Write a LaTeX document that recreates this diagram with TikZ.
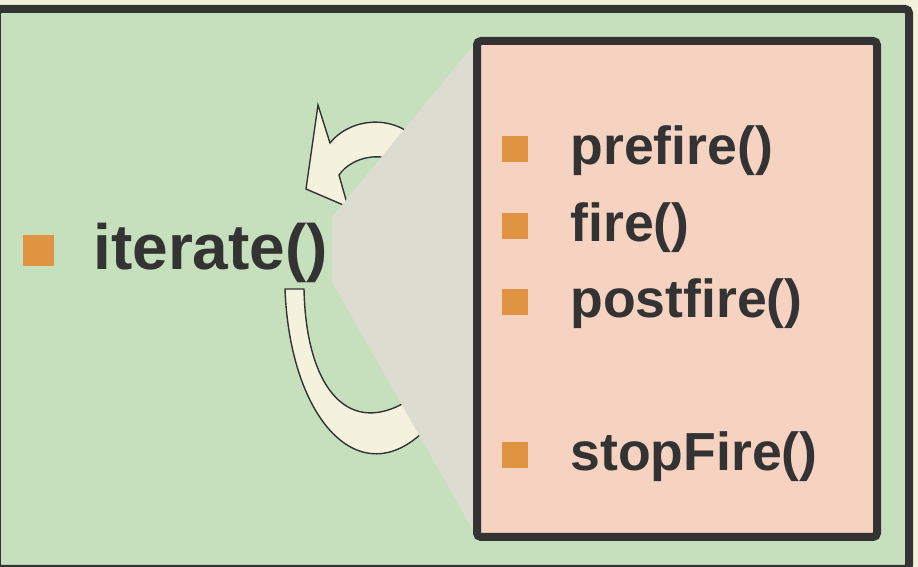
\documentclass[tikz,border=0pt]{standalone}
\usepackage{fontspec}
\setmainfont{Liberation Sans}

\definecolor{paper}{HTML}{F4F1DA}
\definecolor{slidegreen}{HTML}{C6E0BE}
\definecolor{panelpink}{HTML}{F6D3C1}
\definecolor{calloutgrey}{HTML}{DCDCD0}
\definecolor{arrowcream}{HTML}{F4F2DC}
\definecolor{bulletorange}{HTML}{E09442}
\definecolor{ink}{HTML}{333333}

\begin{document}
\begin{tikzpicture}[x=0.5pt,y=-0.5pt,
  bullet/.style={fill=bulletorange,inner sep=0pt,minimum size=#1},
  bullet/.default=13pt,
  method/.style={anchor=base west,inner sep=0pt,text=ink,
    font=\bfseries\fontsize{26.8}{30}\selectfont},
  turn/.style={fill=arrowcream,draw=ink,line width=0.7pt,line join=miter}]

% page and slide frame
\fill[paper] (0,0) rectangle (918,567);
\useasboundingbox (0,0) rectangle (918,567);
\draw[fill=slidegreen,draw=ink,line width=4pt,rounded corners=2pt]
  (-3,569) rectangle (909,9);

% left side: the loop
\node[bullet=15.5pt] (b0) at (38.5,250.5) {};
\node[method,font=\bfseries\fontsize{32}{36}\selectfont] (iterate) at (93,270) {iterate()};

% curved arrow going back up
\draw[turn] (418,140) .. controls (390,112) and (348,120) .. (330,143)
  -- (318,105) -- (306,189) -- (348,207) -- (339,175)
  .. controls (352,156) and (385,150) .. (402,166) -- cycle;
% band coming down from iterate()
\draw[turn] (285,289) .. controls (290,420) and (360,495) .. (425,430)
  -- (412,398) .. controls (350,440) and (306,390) .. (304,289) -- cycle;

% callout wedge into the panel
\coordinate (nw) at (477,41);
\coordinate (sw) at (477,537);
\fill[calloutgrey] (nw) -- (332,217) -- (332,282) -- (sw) -- cycle;

% right side: what one iteration calls
\draw[fill=panelpink,draw=ink,line width=4pt,rounded corners=2pt]
  (nw) rectangle (877,537);

\node[bullet] (b1) at (515,149) {};
\node[method] (prefire) at (570,165) {prefire()};
\node[bullet] (b2) at (515,226) {};
\node[method] (fire) at (570,242) {fire()};
\node[bullet] (b3) at (515,302) {};
\node[method] (postfire) at (570,318) {postfire()};
\node[bullet] (b4) at (515,455) {};
\node[method] (stopfire) at (570,471) {stopFire()};
\end{tikzpicture}
\end{document}
